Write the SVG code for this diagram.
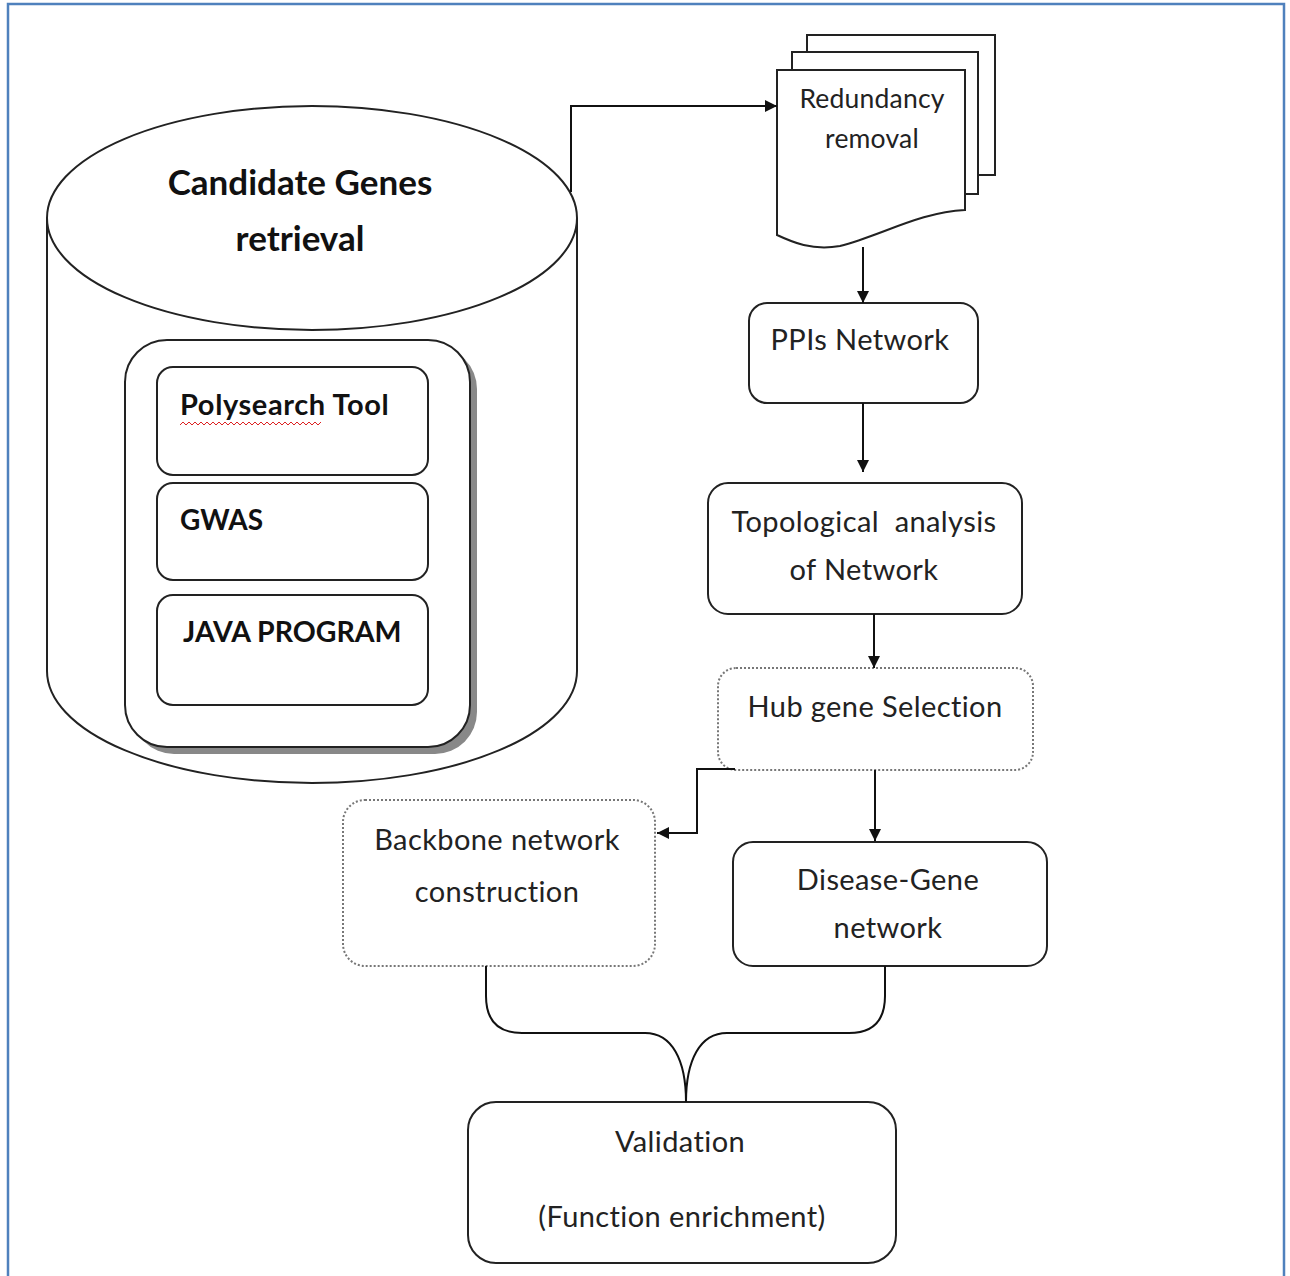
<svg xmlns="http://www.w3.org/2000/svg" width="1290" height="1276" viewBox="0 0 1290 1276">
<defs>
<style>
.s{fill:#fff;stroke:#222;stroke-width:2}
.d{fill:#fff;stroke:#777;stroke-width:2;stroke-dasharray:2 2}
.c{fill:none;stroke:#111;stroke-width:2}
.t{font-family:Lato,"Liberation Sans",sans-serif;fill:#222;font-size:29px;letter-spacing:0.4px}
.r{font-size:26.5px;letter-spacing:0.2px}
.b{font-family:Lato,"Liberation Sans",sans-serif;fill:#111;font-weight:bold}
</style>
<marker id="ah" viewBox="0 0 10 10" refX="10" refY="5" markerWidth="12" markerHeight="12" markerUnits="userSpaceOnUse" orient="auto">
<path d="M0,0 L10,5 L0,10 Z" fill="#111"/>
</marker>
</defs>
<rect x="0" y="0" width="1290" height="1276" fill="#fff"/>
<path d="M8,1276 V4 H1284 V1276" fill="none" stroke="#4f81bd" stroke-width="2.5"/>

<g id="candidate-genes">
<path class="s" d="M47,218 V671 A265,112 0 0 0 577,671 V218"/>
<ellipse class="s" cx="312" cy="218" rx="265" ry="112"/>
<text class="b" font-size="35" x="300" y="195" text-anchor="middle">Candidate Genes</text>
<text class="b" font-size="35" x="300" y="251" text-anchor="middle">retrieval</text>
<rect x="132" y="347" width="345" height="407" rx="42" fill="#888"/>
<rect class="s" x="125" y="340" width="345" height="407" rx="42"/>
</g>

<g id="polysearch">
<rect class="s" x="157" y="367" width="271" height="108" rx="16"/>
<text class="b" font-size="29" x="180" y="415" font-weight="600" letter-spacing="0.6">Polysearch Tool</text>
<path d="M180,425 l3,-3 l3,3 l3,-3 l3,3 l3,-3 l3,3 l3,-3 l3,3 l3,-3 l3,3 l3,-3 l3,3 l3,-3 l3,3 l3,-3 l3,3 l3,-3 l3,3 l3,-3 l3,3 l3,-3 l3,3 l3,-3 l3,3 l3,-3 l3,3 l3,-3 l3,3 l3,-3 l3,3 l3,-3 l3,3 l3,-3 l3,3 l3,-3 l3,3 l3,-3 l3,3 l3,-3 l3,3 l3,-3 l3,3 l3,-3 l3,3 l3,-3 l3,3 l3,-3" fill="none" stroke="#d22" stroke-width="1"/>
</g>
<g id="gwas">
<rect class="s" x="157" y="483" width="271" height="97" rx="16"/>
<text class="b" font-size="28" x="180" y="530">GWAS</text>
</g>
<g id="java">
<rect class="s" x="157" y="595" width="271" height="110" rx="16"/>
<text class="b" font-size="28.5" x="183" y="642">JAVA PROGRAM</text>
</g>

<g id="redundancy">
<path class="s" d="M807,35 H995 V175 H807 Z"/>
<path class="s" d="M792,52 H978 V194 H792 Z"/>
<path class="s" d="M777,70 H965 V210 C920,212 880,236 840,246 C812,251 792,242 777,235 Z"/>
<text class="t r" x="872" y="108" text-anchor="middle">Redundancy</text>
<text class="t r" x="872" y="148" text-anchor="middle">removal</text>
</g>

<g id="ppis">
<rect class="s" x="749" y="303" width="229" height="100" rx="18"/>
<text class="t" x="860" y="350" text-anchor="middle">PPIs Network</text>
</g>

<g id="topological">
<rect class="s" x="708" y="483" width="314" height="131" rx="20"/>
<text class="t" x="864" y="532" text-anchor="middle" xml:space="preserve">Topological  analysis</text>
<text class="t" x="864" y="580" text-anchor="middle">of Network</text>
</g>

<g id="hub">
<rect class="d" x="718" y="668" width="315" height="102" rx="18"/>
<text class="t" x="875" y="717" text-anchor="middle">Hub gene Selection</text>
</g>

<g id="backbone">
<rect class="d" x="343" y="800" width="312" height="166" rx="22"/>
<text class="t" x="497" y="850" text-anchor="middle">Backbone network</text>
<text class="t" x="497" y="902" text-anchor="middle">construction</text>
</g>

<g id="disease">
<rect class="s" x="733" y="842" width="314" height="124" rx="20"/>
<text class="t" x="888" y="890" text-anchor="middle">Disease-Gene</text>
<text class="t" x="888" y="938" text-anchor="middle">network</text>
</g>

<g id="validation">
<rect class="s" x="468" y="1102" width="428" height="161" rx="28"/>
<text class="t" x="680" y="1152" text-anchor="middle">Validation</text>
<text class="t" x="682" y="1227" text-anchor="middle">(Function enrichment)</text>
</g>

<g id="connectors">
<path class="c" d="M571,192 V106 H777" marker-end="url(#ah)"/>
<path class="c" d="M863,247 V303" marker-end="url(#ah)"/>
<path class="c" d="M863,403 V472" marker-end="url(#ah)"/>
<path class="c" d="M874,614 V668" marker-end="url(#ah)"/>
<path class="c" d="M875,770 V841" marker-end="url(#ah)"/>
<path class="c" d="M735,769 H697 V833 H657" marker-end="url(#ah)"/>
<path class="c" d="M486,966 V996 C486,1020 498,1033 522,1033 H645 C672,1033 686,1060 686,1102"/>
<path class="c" d="M885,966 V996 C885,1020 873,1033 849,1033 H727 C700,1033 686,1060 686,1102"/>
</g>
</svg>
